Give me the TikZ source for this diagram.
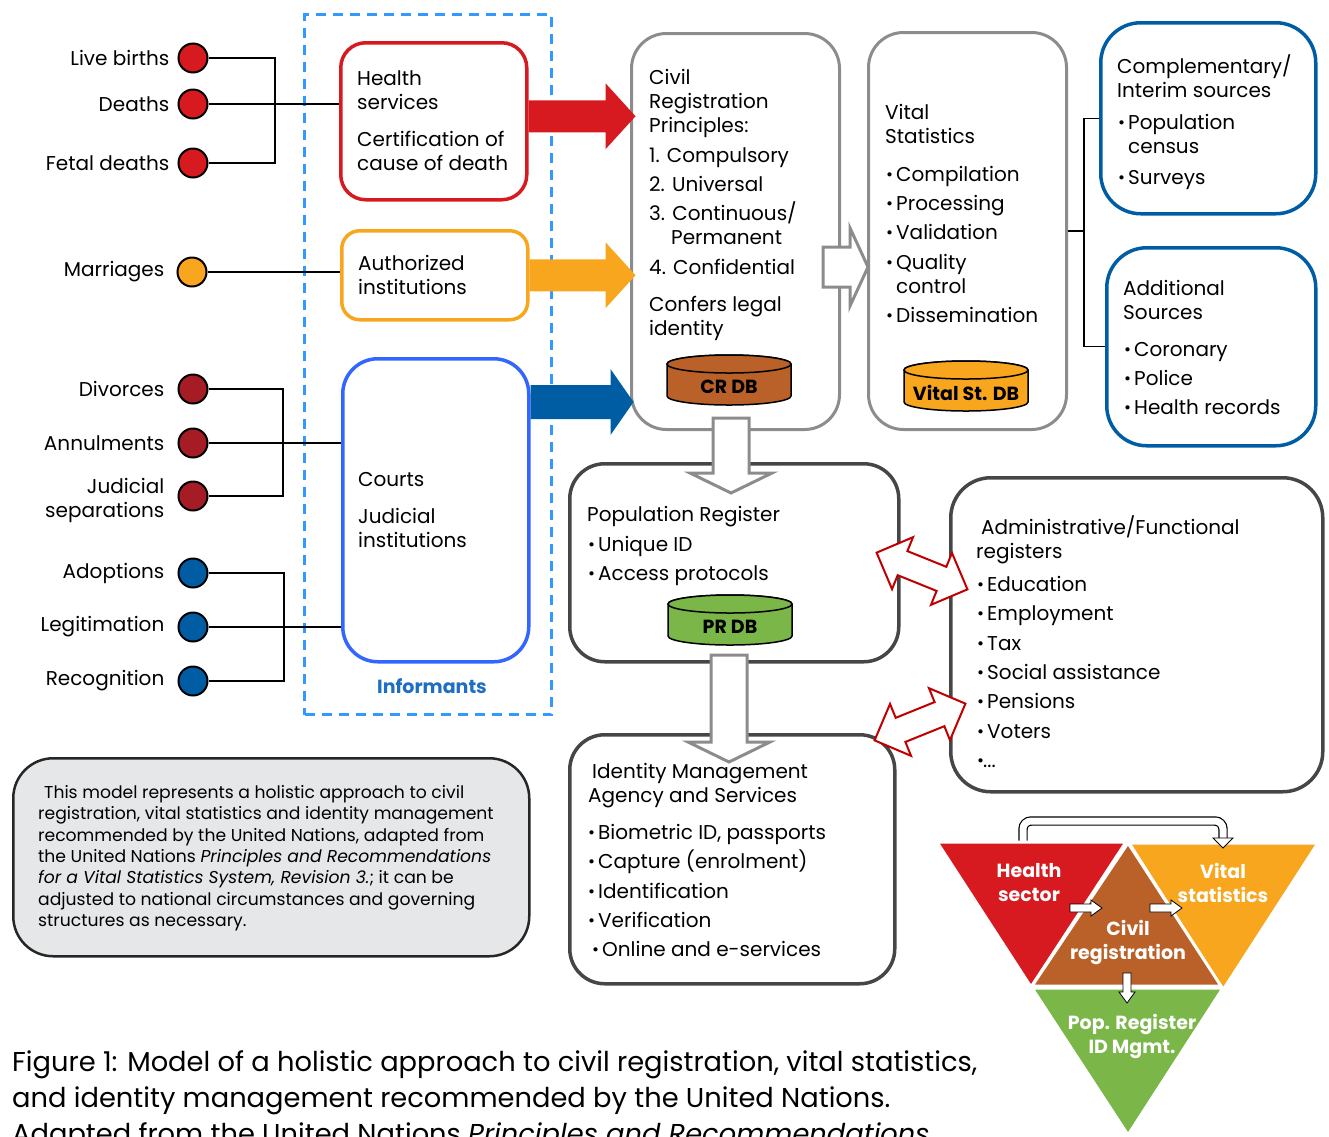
\documentclass[tikz,border=0pt]{standalone}
\usepackage{fontspec}
\setmainfont{Poppins}
\usetikzlibrary{positioning,calc}

\definecolor{crRed}{RGB}{215,25,32}
\definecolor{crOrange}{RGB}{247,166,30}
\definecolor{crBlue}{RGB}{0,93,164}
\definecolor{ctBlue}{RGB}{51,102,255}
\definecolor{dashBlue}{RGB}{51,153,255}
\definecolor{infBlue}{RGB}{30,110,195}
\definecolor{dvRed}{RGB}{165,28,36}
\definecolor{crBrown}{RGB}{185,97,40}
\definecolor{prGreen}{RGB}{122,182,72}
\definecolor{boxGray}{RGB}{140,140,140}
\definecolor{boxDark}{RGB}{70,70,70}
\definecolor{noteGray}{RGB}{230,231,232}
\definecolor{twRed}{RGB}{192,0,0}

\newcommand\dotmark{\raisebox{0.5pt}{\scalebox{0.85}{•}}}
\newcommand\itm{\makebox[10pt][l]{\dotmark}}

\tikzset{
  evt/.style={circle, draw, line width=2pt, minimum size=29pt, inner sep=0pt},
  lbl/.style={inner sep=0pt, align=right, font=\fontsize{20}{24}\selectfont},
  txt/.style={inner sep=0pt, align=left, anchor=north west, font=\fontsize{20}{24}\selectfont},
  box/.style={draw, rounded corners=#1, line width=3.5pt, anchor=north west, inner sep=0pt},
  box/.default=35pt,
  conn/.style={line width=1.2pt},
  hollow/.style={fill=white, draw=boxGray, line width=3pt},
  twoarr/.style={fill=white, draw=twRed, line width=2pt},
  tri/.style={text=white, font=\bfseries\fontsize{19}{24}\selectfont, align=center, inner sep=0pt},
  small/.style={fill=white, draw=black, line width=0.8pt},
  pics/fatarr/.style args={#1/#2/#3/#4}{code={%
    \path[pic actions] (0,-#2) -- ({#1-#4},-#2) -- ({#1-#4},-#3) -- (#1,0)
      -- ({#1-#4},#3) -- ({#1-#4},#2) -- (0,#2) -- cycle;}},
  pics/twoway/.style args={#1/#2/#3/#4}{code={%
    \path[pic actions] (-#1,0) -- ({-#1+#4},#3) -- ({-#1+#4},#2) -- ({#1-#4},#2)
      -- ({#1-#4},#3) -- (#1,0) -- ({#1-#4},-#3) -- ({#1-#4},-#2)
      -- ({-#1+#4},-#2) -- ({-#1+#4},-#3) -- cycle;}},
  pics/dbase/.style args={#1/#2}{code={%
    \draw[fill=#1, line width=1.5pt] (-62pt,16pt) -- (-62pt,-16pt)
      arc[start angle=180, end angle=360, x radius=62pt, y radius=9pt] -- (62pt,16pt)
      arc[start angle=0, end angle=180, x radius=62pt, y radius=9pt] -- cycle;
    \draw[fill=#1, line width=1.5pt] (0pt,16pt) ellipse[x radius=62pt, y radius=9pt];
    \node[font=\bfseries\fontsize{19}{24}\selectfont] at (0pt,-7pt) {#2};}}
}

\begin{document}
\begin{tikzpicture}[x=1pt, y=-1pt]
\useasboundingbox (0,0) rectangle (1329,1136);

% events
\node[evt, fill=crRed] (lb) at (193,58) {};
\node[evt, fill=crRed] (de) at (193,104) {};
\node[evt, fill=crRed] (fd) at (193,163) {};
\node[evt, fill=crOrange] (ma) at (192,272) {};
\node[evt, fill=dvRed] (dv) at (193,389) {};
\node[evt, fill=dvRed] (an) at (193,443) {};
\node[evt, fill=dvRed] (js) at (193,496) {};
\node[evt, fill=crBlue] (ad) at (193,573) {};
\node[evt, fill=crBlue] (lg) at (193,627) {};
\node[evt, fill=crBlue] (rc) at (193,681) {};

\node[lbl, left=8pt of lb] (lbT) {Live births};
\node[lbl, left=8pt of de] (deT) {Deaths};
\node[lbl, left=8pt of fd] (fdT) {Fetal deaths};
\node[lbl, left=12pt of ma] (maT) {Marriages};
\node[lbl, left=13pt of dv] (dvT) {Divorces};
\node[lbl, left=13pt of an] (anT) {Annulments};
\node[lbl, left=13pt of js, yshift=-4pt] (jsT) {Judicial\\separations};
\node[lbl, left=13pt of ad] (adT) {Adoptions};
\node[lbl, left=13pt of lg] (lgT) {Legitimation};
\node[lbl, left=13pt of rc] (rcT) {Recognition};

% informants
\node[draw=dashBlue, line width=3pt, dash pattern=on 10pt off 7pt, anchor=north west,
  minimum width=247pt, minimum height=700pt, inner sep=0pt] (inf) at (303,13) {};
\node[box=25pt, draw=crRed, minimum width=186pt, minimum height=157pt] (hs) at (339,41) {};
\node[box=18pt, draw=crOrange, minimum width=186pt, minimum height=89pt] (ai) at (340,229) {};
\node[box=35pt, draw=ctBlue, minimum width=186pt, minimum height=303pt] (ct) at (341,357) {};
\node[txt] (hsT) at (357,70) {Health\\services\\[13pt]Certification of\\cause of death};
\node[txt] (aiT) at (358,255) {Authorized\\institutions};
\node[txt] (ctT) at (358,472) {Courts\\[13pt]Judicial\\institutions};
\node[inner sep=0pt, text=infBlue, font=\bfseries\fontsize{19}{24}\selectfont] (infT) at (432,686) {Informants};

\draw[conn] (lb.east) -- (275,58) |- (fd.east);
\draw[conn] (de.east) -- (de.east -| hs.west);
\draw[conn] (ma.east) -- (ma.east -| ai.west);
\draw[conn] (dv.east) -- (283,389) |- (js.east);
\draw[conn] (an.east) -- (an.east -| ct.west);
\draw[conn] (ad.east) -- (284,573) |- (rc.east);
\draw[conn] (lg.east) -- (lg.east -| ct.west);

% civil registration and vital statistics
\node[box=35pt, draw=boxGray, line width=3pt, minimum width=208pt, minimum height=396pt] (cr) at (630,32) {};
\node[txt] (crT) at (649,69) {Civil\\Registration\\Principles:\\[6pt]1. Compulsory\\[5pt]2. Universal\\[5pt]%
  3. Continuous/\\\hspace*{22pt}Permanent\\[6pt]4. Confidential\\[13pt]Confers legal\\identity};
\pic at (729,380) {dbase=crBrown/CR DB};

\node[box=35pt, draw=boxGray, line width=3pt, minimum width=198pt, minimum height=397pt] (vs) at (867,31) {};
\node[txt] (vsT) at (885,104) {Vital\\Statistics};
\node[txt] (vsL) at (886,166) {\itm Compilation\\[5pt]\itm Processing\\[5pt]\itm Validation\\[6pt]%
  \itm Quality\\\hspace*{10pt}control\\[5pt]\itm Dissemination};
\pic at (966,386) {dbase=crOrange/Vital St. DB};

\node[box=40pt, draw=crBlue, minimum width=215pt, minimum height=191pt] (cs) at (1099,21) {};
\node[txt] (csT) at (1117,54) {Complementary/\\Interim sources};
\node[txt] (csL) at (1118,114) {\itm Population\\\hspace*{10pt}census\\[7pt]\itm Surveys};
\node[box=40pt, draw=crBlue, minimum width=209pt, minimum height=198pt] (as) at (1105,246) {};
\node[txt] (asT) at (1123,280) {Additional\\Sources};
\node[txt] (asL) at (1124,342) {\itm Coronary\\[5pt]\itm Police\\[5pt]\itm Health records};

\draw[conn] (vs.east) -- ++(16,0) coordinate (vsb);
\draw[conn] (cs.west) -| (vsb) |- (as.west);

% registers and identity
\node[box=35pt, draw=boxDark, minimum width=329pt, minimum height=198pt] (pr) at (568,462) {};
\node[txt] (prT) at (587,506) {Population Register};
\node[txt] (prL) at (588,536) {\itm Unique ID\\[5pt]\itm Access protocols};
\pic at (730,620) {dbase=prGreen/PR DB};

\node[box=35pt, draw=boxDark, minimum width=325pt, minimum height=249pt] (id) at (568,733) {};
\node[txt] (idT) at (588,763) {\hspace*{4pt}Identity Management\\Agency and Services};
\node[txt] (idL) at (588,824) {\itm Biometric ID, passports\\[5pt]\itm Capture (enrolment)\\[6pt]%
  \itm Identification\\[5pt]\itm Verification\\[5pt]\hspace*{4pt}\itm Online and e-services};

\node[box=40pt, draw=boxDark, minimum width=372pt, minimum height=314pt] (fr) at (949,476) {};
\node[txt] (frT) at (976,515) {\hspace*{5pt}Administrative/Functional\\registers};
\node[txt] (frL) at (977,576) {\itm Education\\[5pt]\itm Employment\\[6pt]\itm Tax\\[5pt]%
  \itm Social assistance\\[5pt]\itm Pensions\\[6pt]\itm Voters\\[5pt]\makebox[6pt][l]{\dotmark}...};

% arrows
\pic[fill=crRed] at ([yshift=5pt]hs.east) {fatarr=107/16/33/30};
\pic[fill=crOrange] at (ai.east) {fatarr=106/16/33/30};
\pic[fill=crBlue] at (ct.east |- 0,402) {fatarr=103/17/33/23};
\pic[hollow] at (823,267) {fatarr=45/20/39/18};
\pic[hollow, rotate=-90] at (731,418) {fatarr=75/18/41/20};
\pic[hollow, rotate=-90] at (729,655) {fatarr=107/18/41/20};
\pic[twoarr, rotate=-22] at (922,571) {twoway=49/13/28/28};
\pic[twoarr, rotate=22] at (920,722) {twoway=49/13/28/28};

% note
\node[box=40pt, draw=black!85, line width=2.5pt, fill=noteGray, minimum width=516pt, minimum height=198pt] (nt) at (12,757) {};
\node[txt, font=\fontsize{17.2}{21.4}\selectfont] (ntT) at (38,785) {\hspace*{6pt}This model represents a holistic approach to civil\\
registration, vital statistics and identity management\\
recommended by the United Nations, adapted from\\
the United Nations \textit{Principles and Recommendations}\\
\textit{for a Vital Statistics System, Revision 3.}; it can be\\
adjusted to national circumstances and governing\\
structures as necessary.};

% triangles
\draw[line width=1.2pt, double=white, double distance=7pt, rounded corners=8pt]
  (1023,848) -- (1023,821) -- (1223,821) -- (1223,839);
\coordinate (hA) at (937,842); \coordinate (hB) at (1126,842); \coordinate (hC) at (1031,987);
\coordinate (vA) at (1129,843); \coordinate (vB) at (1318,843); \coordinate (vC) at (1223,990);
\coordinate (gA) at (1032,988); \coordinate (gB) at (1223,988); \coordinate (gC) at (1128,1135);
\coordinate (cA) at (1128,843); \coordinate (cB) at (1032,986); \coordinate (cC) at (1221,986);
\filldraw[fill=crRed, draw=white, line width=3pt] (hA) -- (hB) -- (hC) -- cycle;
\filldraw[fill=crOrange, draw=white, line width=3pt] (vA) -- (vB) -- (vC) -- cycle;
\filldraw[fill=prGreen, draw=white, line width=3pt] (gA) -- (gB) -- (gC) -- cycle;
\filldraw[fill=crBrown, draw=white, line width=3pt] (cA) -- (cB) -- (cC) -- cycle;
\draw[small] (1213,838) -- (1233,838) -- (1223,848) -- cycle;
\node[tri] (hsec) at (1029,883) {Health\\sector};
\node[tri] (vsta) at (1223,883) {Vital\\statistics};
\node[tri] (creg) at (1128,942) {Civil\\registration};
\node[tri] (popr) at (1132,1036) {Pop. Register\\ID Mgmt.};
\pic[small] at (1070,908) {fatarr=32/4/8/11};
\pic[small] at (1150,908) {fatarr=32/4/8/11};
\pic[small, rotate=-90] at (1127,973) {fatarr=30/4/8/11};

% caption
\node[txt, font=\fontsize{27.3}{36}\selectfont] (cap) at (12,1050) {Figure 1: Model of a holistic approach to civil registration, vital statistics,\\
and identity management recommended by the United Nations.\\
Adapted from the United Nations \textit{Principles and Recommendations}};
\end{tikzpicture}
\end{document}
